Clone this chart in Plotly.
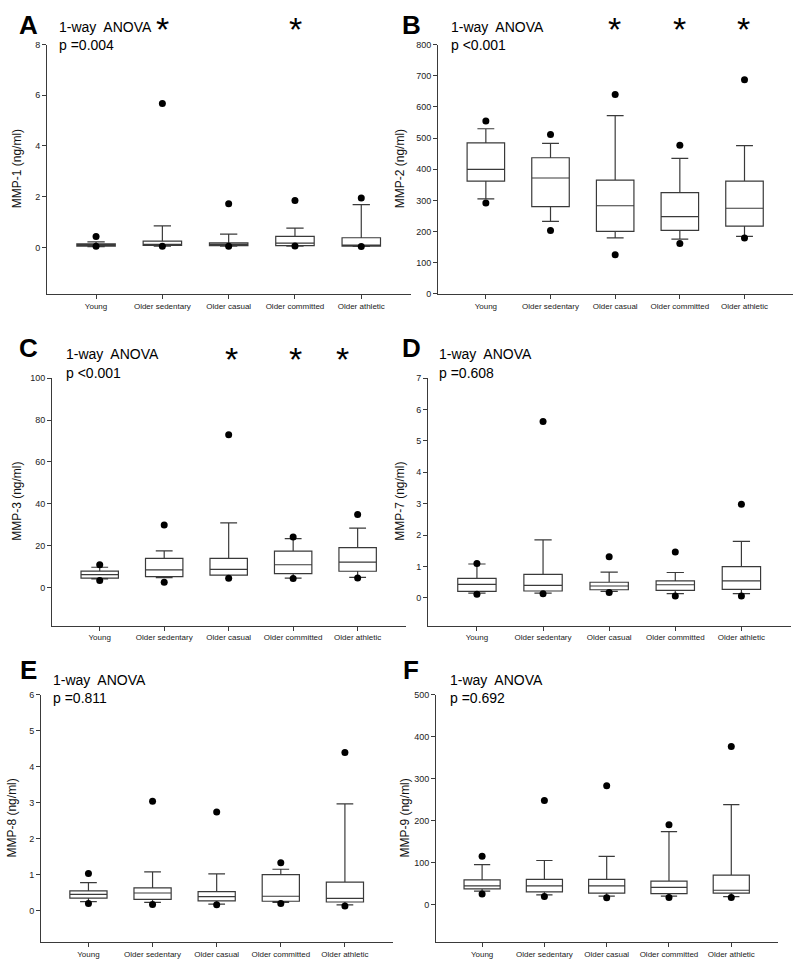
import plotly.graph_objects as go

W, H = 800, 973

groups = ["Young", "Older sedentary", "Older casual", "Older committed", "Older athletic"]
pos = [0, 1, 2, 3, 4]

# MMP-1
mmp1_q1 = [0.05, 0.08, 0.07, 0.07, 0.05]
mmp1_med = [0.08, 0.12, 0.12, 0.17, 0.08]
mmp1_q3 = [0.14, 0.25, 0.18, 0.43, 0.38]
mmp1_lo = [0.03, 0.05, 0.05, 0.05, 0.04]
mmp1_hi = [0.22, 0.85, 0.52, 0.76, 1.69]
mmp1_out_lo = [0.04, 0.04, 0.04, 0.05, 0.03]
mmp1_out_hi = [0.43, 5.68, 1.72, 1.85, 1.95]

# MMP-2
mmp2_q1 = [362, 280, 201, 204, 218]
mmp2_med = [400, 372, 283, 248, 275]
mmp2_q3 = [485, 437, 365, 325, 362]
mmp2_lo = [305, 233, 180, 176, 185]
mmp2_hi = [530, 483, 572, 435, 476]
mmp2_out_lo = [292, 204, 126, 162, 180]
mmp2_out_hi = [555, 512, 640, 477, 687]

# MMP-3
mmp3_q1 = [4.6, 5.3, 6.1, 6.8, 7.9]
mmp3_med = [6.3, 8.6, 8.8, 11.0, 12.3]
mmp3_q3 = [8.0, 14.0, 14.0, 17.5, 19.2]
mmp3_lo = [4.2, 4.8, 6.0, 4.6, 5.0]
mmp3_hi = [9.8, 17.6, 31.0, 23.5, 28.5]
mmp3_out_lo = [3.5, 2.6, 4.6, 4.5, 4.7]
mmp3_out_hi = [11.0, 30.0, 73.0, 24.2, 35.0]

# MMP-7
mmp7_q1 = [0.21, 0.22, 0.26, 0.24, 0.27]
mmp7_med = [0.43, 0.40, 0.38, 0.42, 0.54]
mmp7_q3 = [0.62, 0.75, 0.50, 0.54, 1.00]
mmp7_lo = [0.15, 0.15, 0.21, 0.14, 0.14]
mmp7_hi = [1.08, 1.85, 0.82, 0.81, 1.80]
mmp7_out_lo = [0.12, 0.13, 0.17, 0.06, 0.06]
mmp7_out_hi = [1.10, 5.62, 1.31, 1.46, 2.98]

# MMP-8
mmp8_q1 = [0.35, 0.31, 0.27, 0.26, 0.24]
mmp8_med = [0.45, 0.49, 0.39, 0.40, 0.34]
mmp8_q3 = [0.55, 0.63, 0.53, 1.00, 0.79]
mmp8_lo = [0.25, 0.23, 0.18, 0.23, 0.16]
mmp8_hi = [0.78, 1.08, 1.02, 1.15, 2.97]
mmp8_out_lo = [0.20, 0.17, 0.16, 0.20, 0.13]
mmp8_out_hi = [1.03, 3.04, 2.74, 1.33, 4.40]

# MMP-9
mmp9_q1 = [37.5, 30, 27, 26, 27]
mmp9_med = [44.5, 44.5, 44.5, 41, 34]
mmp9_q3 = [59, 60, 60, 56, 70]
mmp9_lo = [32, 23, 20, 20, 19]
mmp9_hi = [95, 105, 115, 174, 238]
mmp9_out_lo = [25, 19, 16, 17, 17]
mmp9_out_hi = [115, 248, 283, 190, 377]

panels = [
    dict(letter="A", ytitle="MMP-1 (ng/ml)", p="p =0.004",
         stats=(mmp1_q1, mmp1_med, mmp1_q3, mmp1_lo, mmp1_hi, mmp1_out_lo, mmp1_out_hi),
         yrange=[-1.84, 8], yticks=[0, 2, 4, 6, 8], stars=[(162, 24), (295, 24)],
         box=(47, 411, 40, 292), letter_xy=(28, 20), text_x=57, text_y=(22, 40), ytitle_x=17),
    dict(letter="B", ytitle="MMP-2 (ng/ml)", p="p <0.001",
         stats=(mmp2_q1, mmp2_med, mmp2_q3, mmp2_lo, mmp2_hi, mmp2_out_lo, mmp2_out_hi),
         yrange=[0, 800], yticks=list(range(0, 801, 100)), stars=[(614, 24), (679, 24), (743, 24)],
         box=(438, 793, 40, 292), letter_xy=(411, 20), text_x=449, text_y=(22, 40), ytitle_x=400),
    dict(letter="C", ytitle="MMP-3 (ng/ml)", p="p <0.001",
         stats=(mmp3_q1, mmp3_med, mmp3_q3, mmp3_lo, mmp3_hi, mmp3_out_lo, mmp3_out_hi),
         yrange=[-18, 100], yticks=[0, 20, 40, 60, 80, 100], stars=[(232, 358), (295, 358), (342, 358)],
         box=(52, 406, 377, 627), letter_xy=(28, 347), text_x=64, text_y=(353, 372), ytitle_x=17),
    dict(letter="D", ytitle="MMP-7 (ng/ml)", p="p =0.608",
         stats=(mmp7_q1, mmp7_med, mmp7_q3, mmp7_lo, mmp7_hi, mmp7_out_lo, mmp7_out_hi),
         yrange=[-0.88, 7], yticks=[0, 1, 2, 3, 4, 5, 6, 7], stars=[],
         box=(428, 791, 377, 627), letter_xy=(411, 347), text_x=437, text_y=(353, 372), ytitle_x=400),
    dict(letter="E", ytitle="MMP-8 (ng/ml)", p="p =0.811",
         stats=(mmp8_q1, mmp8_med, mmp8_q3, mmp8_lo, mmp8_hi, mmp8_out_lo, mmp8_out_hi),
         yrange=[-0.88, 6], yticks=[0, 1, 2, 3, 4, 5, 6], stars=[],
         box=(41, 393, 697, 947), letter_xy=(28, 672), text_x=51, text_y=(682, 700), ytitle_x=12),
    dict(letter="F", ytitle="MMP-9 (ng/ml)", p="p =0.692",
         stats=(mmp9_q1, mmp9_med, mmp9_q3, mmp9_lo, mmp9_hi, mmp9_out_lo, mmp9_out_hi),
         yrange=[-90, 500], yticks=list(range(0, 501, 100)), stars=[],
         box=(436, 778, 697, 947), letter_xy=(411, 672), text_x=448, text_y=(682, 700), ytitle_x=405),
]

XR = [-0.74, 4.75]
LINE = "#3a3a3a"
FONT = "Liberation Sans, Arial, sans-serif"

fig = go.Figure()
annotations = []
layout = {}

for i, p in enumerate(panels, start=1):
    q1, med, q3, lo, hi, out_lo, out_hi = p["stats"]
    xa = "x" if i == 1 else f"x{i}"
    ya = "y" if i == 1 else f"y{i}"
    fig.add_trace(go.Box(
        x=pos, q1=q1, median=med, q3=q3, lowerfence=lo, upperfence=hi,
        width=0.58, whiskerwidth=0.45, boxpoints=False,
        line=dict(color=LINE, width=1.2), fillcolor="white",
        xaxis=xa, yaxis=ya, showlegend=False, hoverinfo="skip"))
    fig.add_trace(go.Scatter(
        x=pos + pos, y=out_lo + out_hi, mode="markers",
        marker=dict(color="black", size=7),
        xaxis=xa, yaxis=ya, showlegend=False, hoverinfo="skip"))

    x0, x1, y0, y1 = p["box"]
    sfx = "" if i == 1 else str(i)
    layout["xaxis" + sfx] = dict(
        domain=[x0 / W, x1 / W], range=XR, anchor=ya,
        tickvals=pos, ticktext=groups, ticks="outside", ticklen=4, tickcolor=LINE,
        showline=True, linecolor=LINE, linewidth=1, showgrid=False, zeroline=False,
        tickfont=dict(size=8, color="#222", family=FONT), fixedrange=True)
    layout["yaxis" + sfx] = dict(
        domain=[1 - y1 / H, 1 - y0 / H], range=p["yrange"], anchor=xa,
        tickvals=p["yticks"], ticks="outside", ticklen=4, tickcolor=LINE,
        showline=True, linecolor=LINE, linewidth=1, showgrid=False, zeroline=False,
        tickfont=dict(size=9, color="#222", family=FONT), fixedrange=True)

    annotations.append(dict(
        text=p["ytitle"], x=p["ytitle_x"] / W, y=1 - ((y0 + y1) / 2) / H,
        xref="paper", yref="paper", textangle=-90, showarrow=False,
        font=dict(size=12, color="#111", family=FONT), xanchor="center", yanchor="middle"))
    annotations.append(dict(
        text="<b>" + p["letter"] + "</b>", x=p["letter_xy"][0] / W, y=1 - p["letter_xy"][1] / H,
        xref="paper", yref="paper", showarrow=False,
        font=dict(size=26, color="black", family=FONT), xanchor="center", yanchor="middle"))
    annotations.append(dict(
        text="1-way  ANOVA", x=p["text_x"] / W, y=1 - p["text_y"][0] / H,
        xref="paper", yref="paper", showarrow=False,
        font=dict(size=14, color="black", family=FONT), xanchor="left", yanchor="middle"))
    annotations.append(dict(
        text=p["p"], x=p["text_x"] / W, y=1 - p["text_y"][1] / H,
        xref="paper", yref="paper", showarrow=False,
        font=dict(size=14, color="black", family=FONT), xanchor="left", yanchor="middle"))
    for sx, sy in p["stars"]:
        annotations.append(dict(
            text="*", x=sx / W, y=1 - sy / H,
            xref="paper", yref="paper", showarrow=False,
            font=dict(size=34, color="black", family=FONT), xanchor="center", yanchor="middle"))

fig.update_layout(
    width=W, height=H,
    margin=dict(l=0, r=0, t=0, b=0),
    paper_bgcolor="white", plot_bgcolor="white",
    annotations=annotations,
    **layout)

# the page body has a default margin; drop it so the figure sits at the window corner
fig.write_html("out.html", config={"displayModeBar": False},
               post_script="document.body.style.margin='0';")
